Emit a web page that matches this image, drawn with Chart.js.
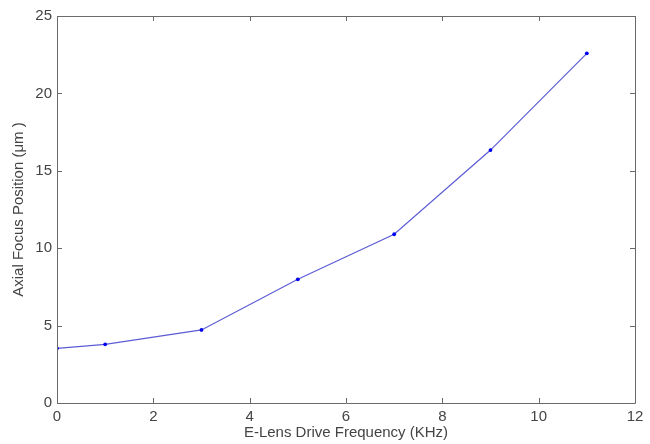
<!DOCTYPE html>
<html>
<head>
<meta charset="utf-8">
<script src="https://cdn.jsdelivr.net/npm/chart.js@4.4.1/dist/chart.umd.min.js"></script>
<style>
  html, body { margin: 0; padding: 0; background: #fff; }
  #wrap { width: 650px; height: 444px; }
</style>
</head>
<body>
<div id="wrap"><canvas id="chart" width="650" height="444"></canvas></div>
<script>
// Data
const freqKHz = [0, 1, 3, 5, 7, 9, 11];
const focusUm = [3.53, 3.79, 4.72, 7.99, 10.9, 16.34, 22.59];
const xTicks = [0, 2, 4, 6, 8, 10, 12];
const yTicks = [0, 5, 10, 15, 20, 25];

const axisColor = '#6a6a6a';
const textColor = '#444444';
const fontFamily = "'Liberation Sans', Arial, sans-serif";

// MATLAB style box with inward ticks
const boxPlugin = {
    id: 'matlabBox',
    afterDraw(chart) {
        const { ctx, chartArea: a, scales } = chart;
        ctx.save();
        ctx.strokeStyle = axisColor;
        ctx.lineWidth = 1;
        ctx.beginPath();
        ctx.rect(a.left + 0.5, a.top + 0.5, a.right - a.left, a.bottom - a.top);
        xTicks.forEach(v => {
            const px = Math.round(scales.x.getPixelForValue(v)) + 0.5;
            ctx.moveTo(px, a.bottom);
            ctx.lineTo(px, a.bottom - 5);
            ctx.moveTo(px, a.top);
            ctx.lineTo(px, a.top + 5);
        });
        yTicks.forEach(v => {
            const py = Math.round(scales.y.getPixelForValue(v)) + 0.5;
            ctx.moveTo(a.left, py);
            ctx.lineTo(a.left + 5, py);
            ctx.moveTo(a.right, py);
            ctx.lineTo(a.right - 5, py);
        });
        ctx.stroke();
        ctx.restore();
    }
};

new Chart(document.getElementById('chart'), {
    type: 'line',
    data: {
        datasets: [{
            data: freqKHz.map((x, i) => ({ x: x, y: focusUm[i] })),
            borderColor: '#5c5cd6',
            borderWidth: 1.2,
            pointBackgroundColor: '#0000ee',
            pointBorderColor: '#0000ee',
            pointRadius: 1.9,
            pointBorderWidth: 0,
            tension: 0
        }]
    },
    options: {
        responsive: false,
        animation: false,
        layout: { padding: { top: 16, right: 15, left: 0, bottom: 0 } },
        plugins: { legend: { display: false }, tooltip: { enabled: false } },
        scales: {
            x: {
                type: 'linear',
                min: 0, max: 12,
                afterBuildTicks: s => { s.ticks = xTicks.map(v => ({ value: v })); },
                afterFit: s => { s.height = 41; },
                grid: { display: false, drawTicks: false },
                border: { display: false },
                ticks: { color: textColor, font: { family: fontFamily, size: 15 }, padding: 5, maxRotation: 0 },
                title: {
                    display: true,
                    text: 'E-Lens Drive Frequency (KHz)',
                    color: textColor,
                    font: { family: fontFamily, size: 15 },
                    padding: { top: 0, bottom: 2 }
                }
            },
            y: {
                type: 'linear',
                min: 0, max: 25,
                afterBuildTicks: s => { s.ticks = yTicks.map(v => ({ value: v })); },
                afterFit: s => { s.width = 57; },
                grid: { display: false, drawTicks: false },
                border: { display: false },
                ticks: { color: textColor, font: { family: fontFamily, size: 15 }, padding: 5 },
                title: {
                    display: true,
                    text: 'Axial Focus Position (\u03BCm )',
                    color: textColor,
                    font: { family: fontFamily, size: 15 },
                    padding: { top: 10, bottom: 0 }
                }
            }
        }
    },
    plugins: [boxPlugin]
});
</script>
</body>
</html>
